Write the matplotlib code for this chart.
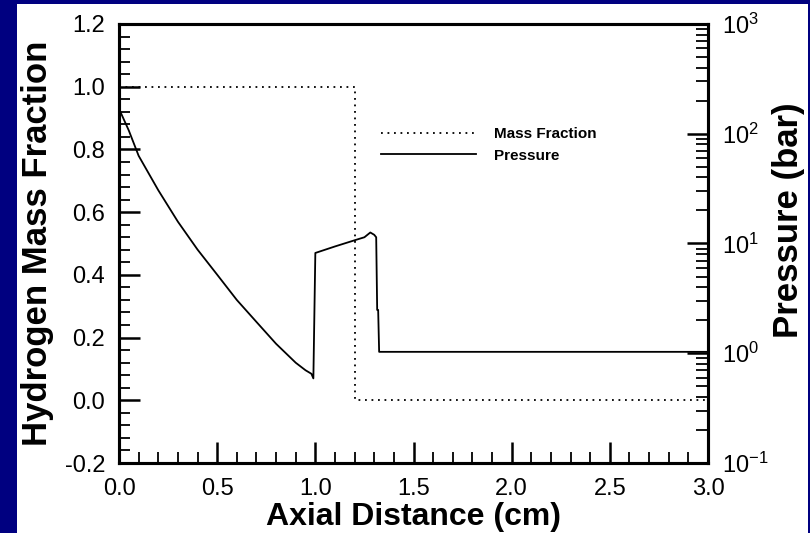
import numpy as np
import matplotlib.pyplot as plt
from matplotlib.patches import Rectangle
from matplotlib.ticker import MultipleLocator, LogLocator, NullFormatter

plt.rcParams['font.family'] = 'Liberation Sans'
plt.rcParams['mathtext.fontset'] = 'custom'
plt.rcParams['mathtext.rm'] = 'Liberation Sans'
plt.rcParams['mathtext.default'] = 'regular'

# hydrogen mass fraction (left axis)
mf_x = [0.0, 1.2, 1.2, 3.0]
mf_y = [1.0, 1.0, 0.0, 0.0]

# pressure in bar (right axis, log)
p_x = [0.0, 0.05, 0.1, 0.2, 0.3, 0.4, 0.5, 0.6, 0.7, 0.8, 0.9, 0.95, 0.98, 0.99,
       1.0, 1.1, 1.2, 1.25, 1.28, 1.3, 1.31, 1.315, 1.32, 1.325, 3.0]
p_y = [169, 107, 63, 30.6, 15.8, 8.8, 5.2, 3.06, 1.93, 1.22, 0.82, 0.70, 0.65, 0.59,
       8.2, 9.4, 10.7, 11.4, 12.6, 12.0, 11.4, 2.48, 2.48, 1.03, 1.03]

xticks = [0.0, 0.5, 1.0, 1.5, 2.0, 2.5, 3.0]
yticks = [-0.2, 0.0, 0.2, 0.4, 0.6, 0.8, 1.0, 1.2]
pticks = [0.1, 1, 10, 100, 1000]
plabels = ['$10^{-1}$', '$10^{0}$', '$10^{1}$', '$10^{2}$', '$10^{3}$']

fig = plt.figure(figsize=(8.1, 5.33), dpi=100, facecolor='#000080')
fig.add_artist(Rectangle((17 / 810, 0), (808 - 17) / 810, 529 / 533,
                         transform=fig.transFigure, facecolor='white',
                         edgecolor='none', zorder=-5))

ax = fig.add_axes([119 / 810, 1 - 463 / 533, 589 / 810, 439 / 533])
ax.set_facecolor('white')
ax2 = ax.twinx()

l1, = ax.plot(mf_x, mf_y, color='black', lw=1.3, linestyle=(0, (1, 2.6)))
l2, = ax2.plot(p_x, p_y, color='black', lw=1.3)
ax2.set_yscale('log')

ax.set_xlim(0, 3)
ax.set_ylim(-0.2, 1.2)
ax2.set_ylim(0.1, 1000)

ax.set_xticks(xticks)
ax.set_xticklabels([f'{v:.1f}' for v in xticks])
ax.xaxis.set_minor_locator(MultipleLocator(0.1))
ax.set_yticks(yticks)
ax.set_yticklabels([f'{v:.1f}' for v in yticks])
ax.yaxis.set_minor_locator(MultipleLocator(0.04))

ax2.set_yticks(pticks)
ax2.set_yticklabels(plabels)
ax2.yaxis.set_minor_locator(LogLocator(base=10, subs=np.arange(2, 10)))
ax2.yaxis.set_minor_formatter(NullFormatter())

ax.tick_params(axis='both', which='major', direction='in', length=15, width=1.8,
               labelsize=17, pad=10, top=False, right=False)
ax.tick_params(axis='both', which='minor', direction='in', length=8, width=1.3,
               top=False, right=False)
ax.tick_params(axis='x', which='major', pad=11)
ax2.tick_params(axis='y', which='major', direction='in', length=15, width=1.8,
                labelsize=17, pad=10)
ax2.tick_params(axis='y', which='minor', direction='in', length=9, width=1.3)

for a in (ax, ax2):
    for s in a.spines.values():
        s.set_linewidth(2.2)

ax.set_xlabel('Axial Distance (cm)', fontsize=23, fontweight='bold')
ax.xaxis.set_label_coords(0.5, -0.089)
ax.set_ylabel('Hydrogen Mass Fraction', fontsize=25, fontweight='bold')
ax.yaxis.set_label_coords(-0.111, 0.5)
ax2.set_ylabel('Pressure (bar)', fontsize=25, fontweight='bold')
ax2.yaxis.set_label_coords(1.108, 0.553)

ax.legend([l1, l2], ['Mass Fraction', 'Pressure'], loc='upper left',
          bbox_to_anchor=(0.445, 0.765), frameon=False, borderpad=0,
          borderaxespad=0, handlelength=6.2, handletextpad=1.2,
          labelspacing=0.5, prop={'weight': 'bold', 'size': 11})

fig.savefig('out.png', dpi=100, facecolor=fig.get_facecolor())
